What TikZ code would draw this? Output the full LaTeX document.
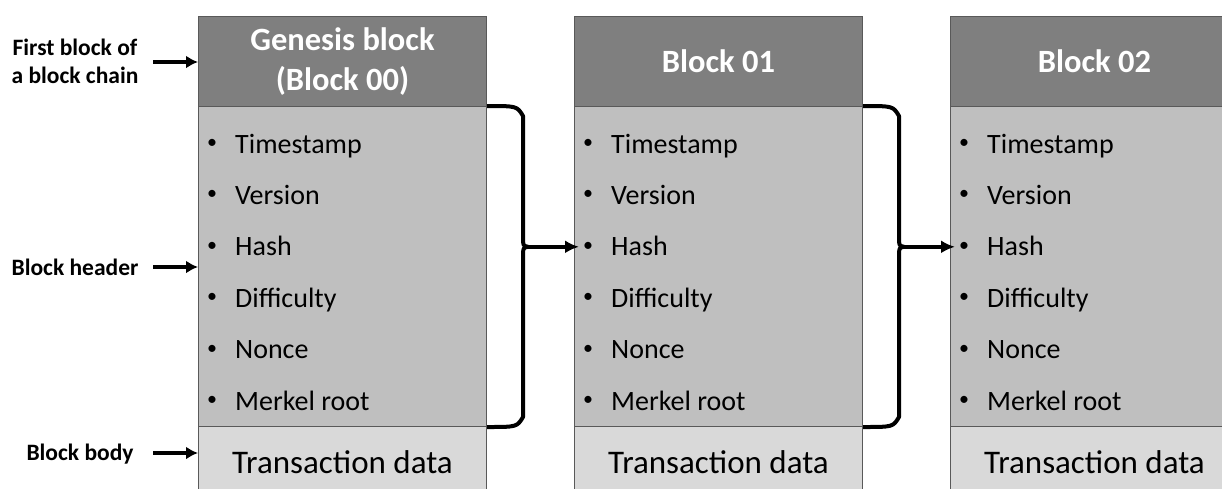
\documentclass[tikz,border=0pt]{standalone}
\usepackage{fontspec}
\setmainfont{Carlito}
\usetikzlibrary{arrows.meta,positioning}
\definecolor{headgray}{HTML}{7F7F7F}
\definecolor{bodygray}{HTML}{BFBFBF}
\definecolor{txgray}{HTML}{D9D9D9}
\definecolor{edgegray}{HTML}{595959}

\begin{document}
\begin{tikzpicture}[x=1pt,y=-1pt]
    % Setup the styles for the blocks
    \tikzset{box style/.style={draw=edgegray,
                               line width=1pt,
                               minimum width=288pt,
                               inner sep=0pt,
                               anchor=north west},
             head style/.style={box style,
                                fill=headgray,
                                minimum height=90pt,
                                text=white,
                                align=center,
                                font=\fontsize{32.5}{40}\selectfont\bfseries},
             body style/.style={box style,
                                fill=bodygray,
                                minimum height=320pt},
             tx style/.style={box style,
                              fill=txgray,
                              minimum height=72pt,
                              font=\fontsize{33}{38}\selectfont},
             item style/.style={anchor=base west,
                                inner sep=0pt,
                                font=\fontsize{28}{32}\selectfont},
             dot style/.style={inner sep=0pt,
                               font=\fontsize{20}{24}\selectfont},
             side style/.style={align=center,
                                anchor=base,
                                inner sep=0pt,
                                font=\fontsize{23.5}{28}\selectfont\bfseries},
             side arrow/.style={line width=4pt,
                                -{Latex[length=12pt,width=13pt]}},
             link/.style={line width=4pt,
                          line join=round}}
    \useasboundingbox (0,0) rectangle (1222,488);
    \clip (0,0) rectangle (1222,488);
    % Draw the blocks
    \foreach \i/\title in {0/{Genesis block\\(Block 00)},1/{Block 01},2/{Block 02}} {
        \node[head style] (head\i) at (198+376*\i, 16) {\title};
        \node[body style] (body\i) at (198+376*\i, 106) {};
        \node[tx style] (tx\i) at (198+376*\i, 426) {Transaction data};
        \foreach \entry [count=\k] in {Timestamp, Version, Hash, Difficulty, Nonce, Merkel root} {
            \node[dot style] (dot\i-\k) at (212+376*\i, 144+51.4*\k-51.4) {\textbullet};
            \node[item style] (item\i-\k) at (235+376*\i, 153+51.4*\k-51.4) {\entry};
        }
    }
    % Labels on the left
    \node[side style] (first) at (75, 83) {First block of\\a block chain};
    \node[side style] (header) at (75, 275) {Block header};
    \node[side style] (bodylbl) at (80, 460) {Block body};
    \coordinate (firstarr) at (153, 62);
    \coordinate (headerarr) at (153, 267);
    \coordinate (bodyarr) at (153, 453);
    \draw[side arrow] (firstarr) -- (firstarr -| head0.west);
    \draw[side arrow] (headerarr) -- (headerarr -| body0.west);
    \draw[side arrow] (bodyarr) -- (bodyarr -| tx0.west);
    % Braces linking one block to the next
    \foreach \i [evaluate=\i as \j using int(\i+1)] in {0,1} {
        \coordinate (tip\i) at ([xshift=41pt]body\i.east |- dot\j-3);
        \draw[link] (body\i.north east) .. controls +(30,0) .. +(36,10)
            -- ([shift={(-5,-10)}]tip\i)
            .. controls ([shift={(-5,-1)}]tip\i) .. (tip\i)
            .. controls ([shift={(-5,1)}]tip\i) .. ([shift={(-5,10)}]tip\i)
            -- ([shift={(36,-10)}]body\i.south east)
            .. controls ([shift={(30,0)}]body\i.south east) .. (body\i.south east);
        \draw[line width=3.5pt, -{Latex[length=14pt,width=13pt]}] (tip\i) -- ([xshift=5pt]body\j.west |- dot\j-3);
    }
\end{tikzpicture}
\end{document}
